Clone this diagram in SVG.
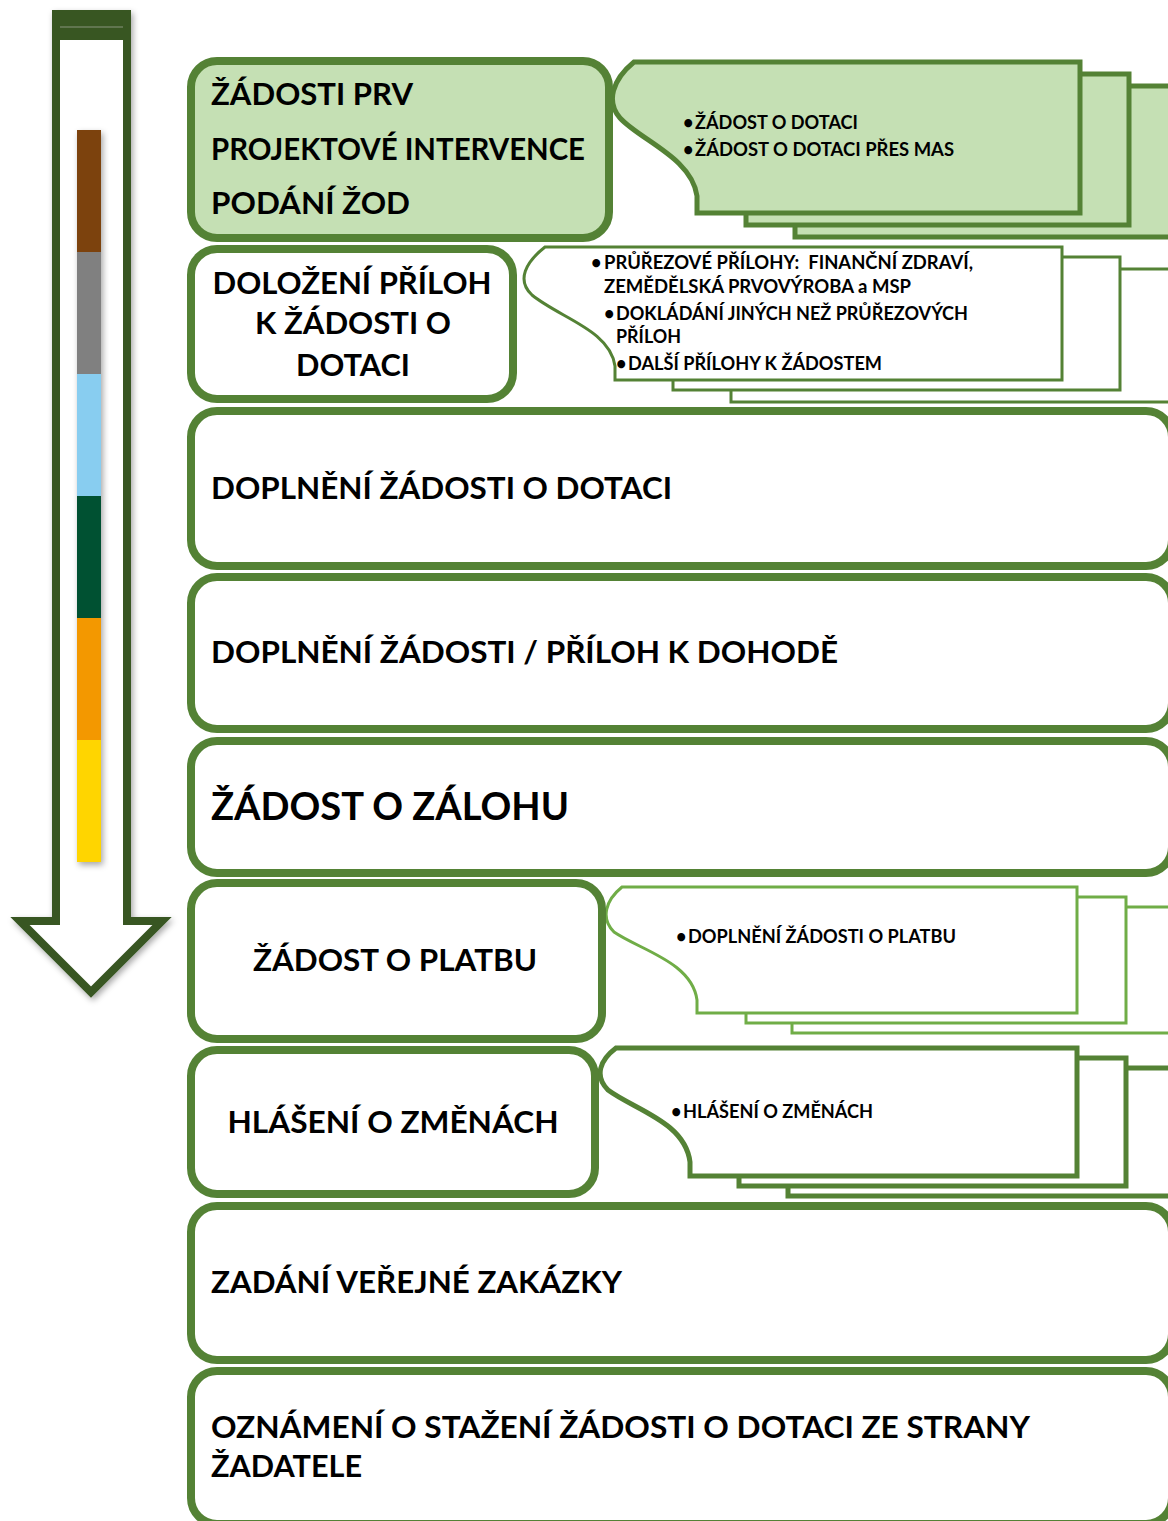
<svg xmlns="http://www.w3.org/2000/svg" width="1168" height="1521" viewBox="0 0 1168 1521">
<style>
.box{fill:#fff;stroke:#548235;stroke-width:8}
.g{fill:#C5E0B4}
.cardA{fill:#C5E0B4;stroke:#548235;stroke-width:5}
.cardB{fill:#fff;stroke:#548235;stroke-width:3}
.cardC{fill:#fff;stroke:#70AD47;stroke-width:3}
.cardD{fill:#fff;stroke:#548235;stroke-width:5}
.t{font-family:Lato,"Liberation Sans",sans-serif;font-weight:700;font-size:30px;fill:#000}
.s{font-family:Lato,"Liberation Sans",sans-serif;font-weight:700;font-size:18px;fill:#000;white-space:pre}
</style>
<defs>
<filter id="sh" x="-30%" y="-5%" width="160%" height="110%">
<feDropShadow dx="2" dy="3" stdDeviation="3" flood-color="#000" flood-opacity="0.35"/>
</filter>
<path id="c1" d="M697,213 V196 C692,158 640,140 620,118 C606,102 612,80 634,62 H1080 V213 Z"/>
<path id="c2" d="M615,380 V366 C610,330 560,318 532,295 C516,280 526,262 545,247 H1062 V380 Z"/>
<path id="c6" d="M697,1013 V1000 C692,962 640,950 614,932 C600,918 606,900 622,887 H1077 V1013 Z"/>
<path id="c7" d="M690,1176 V1162 C685,1122 635,1110 608,1090 C594,1076 600,1060 616,1048 H1077 V1176 Z"/>
</defs>

<g id="arrow" filter="url(#sh)">
<path d="M56,14 H127 V921 H162 L91,992 L20,921 H56 Z" fill="#fff" stroke="#385723" stroke-width="8" stroke-linejoin="miter"/>
<rect x="52" y="10" width="79" height="30" fill="#385723"/>
<line x1="60" y1="27" x2="123" y2="27" stroke="#6E7F60" stroke-width="1.5"/>
</g>
<g id="colorbar" filter="url(#sh)">
<rect x="77" y="130" width="24" height="122" fill="#7B4310"/>
<rect x="77" y="252" width="24" height="122" fill="#808080"/>
<rect x="77" y="374" width="24" height="122" fill="#88CDF0"/>
<rect x="77" y="496" width="24" height="122" fill="#005132"/>
<rect x="77" y="618" width="24" height="122" fill="#F39800"/>
<rect x="77" y="740" width="24" height="122" fill="#FFD500"/>
</g>

<g id="connectors"></g>

<g id="stack1">
<use href="#c1" class="cardA" transform="translate(98,24)"/>
<use href="#c1" class="cardA" transform="translate(49,12)"/>
<use href="#c1" class="cardA"/>
<text class="s" x="683" y="129">•</text><text class="s" x="695" y="129" textLength="163" lengthAdjust="spacingAndGlyphs">ŽÁDOST O DOTACI</text>
<text class="s" x="683" y="156">•</text><text class="s" x="695" y="156" textLength="259" lengthAdjust="spacingAndGlyphs">ŽÁDOST O DOTACI PŘES MAS</text>
</g>
<g id="node1">
<rect class="box g" x="191" y="61" width="418" height="177" rx="26"/>
<text class="t" x="211" y="105" textLength="202" lengthAdjust="spacingAndGlyphs">ŽÁDOSTI PRV</text>
<text class="t" x="211" y="160" textLength="374" lengthAdjust="spacingAndGlyphs">PROJEKTOVÉ INTERVENCE</text>
<text class="t" x="211" y="214" textLength="199" lengthAdjust="spacingAndGlyphs">PODÁNÍ ŽOD</text>
</g>

<g id="stack2">
<use href="#c2" class="cardB" transform="translate(116,22)"/>
<use href="#c2" class="cardB" transform="translate(58,10)"/>
<use href="#c2" class="cardB"/>
<text class="s" x="591" y="269">•</text><text class="s" x="604" y="269" textLength="369" lengthAdjust="spacingAndGlyphs" xml:space="preserve">PRŮŘEZOVÉ PŘÍLOHY:  FINANČNÍ ZDRAVÍ,</text>
<text class="s" x="604" y="293" textLength="307" lengthAdjust="spacingAndGlyphs">ZEMĚDĚLSKÁ PRVOVÝROBA a MSP</text>
<text class="s" x="604" y="320">•</text><text class="s" x="616" y="320" textLength="352" lengthAdjust="spacingAndGlyphs">DOKLÁDÁNÍ JINÝCH NEŽ PRŮŘEZOVÝCH</text>
<text class="s" x="616" y="343" textLength="65" lengthAdjust="spacingAndGlyphs">PŘÍLOH</text>
<text class="s" x="616" y="370">•</text><text class="s" x="628" y="370" textLength="254" lengthAdjust="spacingAndGlyphs">DALŠÍ PŘÍLOHY K ŽÁDOSTEM</text>
</g>
<g id="node2">
<rect class="box" x="191" y="249" width="322" height="150" rx="26"/>
<text class="t" x="352" y="294" text-anchor="middle" textLength="279" lengthAdjust="spacingAndGlyphs">DOLOŽENÍ PŘÍLOH</text>
<text class="t" x="353" y="334" text-anchor="middle" textLength="196" lengthAdjust="spacingAndGlyphs">K ŽÁDOSTI O</text>
<text class="t" x="353" y="376" text-anchor="middle" textLength="114" lengthAdjust="spacingAndGlyphs">DOTACI</text>
</g>

<g id="node3">
<rect class="box" x="191" y="411" width="981" height="155" rx="26"/>
<text class="t" x="211" y="499" textLength="461" lengthAdjust="spacingAndGlyphs">DOPLNĚNÍ ŽÁDOSTI O DOTACI</text>
</g>
<g id="node4">
<rect class="box" x="191" y="577" width="981" height="152" rx="26"/>
<text class="t" x="211" y="663" textLength="627" lengthAdjust="spacingAndGlyphs">DOPLNĚNÍ ŽÁDOSTI / PŘÍLOH K DOHODĚ</text>
</g>
<g id="node5">
<rect class="box" x="191" y="741" width="981" height="132" rx="26"/>
<text class="t" x="211" y="820" style="font-size:38px" textLength="358" lengthAdjust="spacingAndGlyphs">ŽÁDOST O ZÁLOHU</text>
</g>

<g id="stack6">
<use href="#c6" class="cardC" transform="translate(95,20)"/>
<use href="#c6" class="cardC" transform="translate(49,10)"/>
<use href="#c6" class="cardC"/>
<text class="s" x="676" y="943">•</text><text class="s" x="688" y="943" textLength="268" lengthAdjust="spacingAndGlyphs">DOPLNĚNÍ ŽÁDOSTI O PLATBU</text>
</g>
<g id="node6">
<rect class="box" x="191" y="883" width="411" height="156" rx="26"/>
<text class="t" x="395" y="971" text-anchor="middle" textLength="284" lengthAdjust="spacingAndGlyphs">ŽÁDOST O PLATBU</text>
</g>

<g id="stack7">
<use href="#c7" class="cardD" transform="translate(98,20)"/>
<use href="#c7" class="cardD" transform="translate(49,10)"/>
<use href="#c7" class="cardD"/>
<text class="s" x="671" y="1118">•</text><text class="s" x="683" y="1118" textLength="190" lengthAdjust="spacingAndGlyphs">HLÁŠENÍ O ZMĚNÁCH</text>
</g>
<g id="node7">
<rect class="box" x="191" y="1050" width="404" height="144" rx="26"/>
<text class="t" x="393" y="1133" text-anchor="middle" textLength="331" lengthAdjust="spacingAndGlyphs">HLÁŠENÍ O ZMĚNÁCH</text>
</g>

<g id="node8">
<rect class="box" x="191" y="1206" width="981" height="154" rx="26"/>
<text class="t" x="211" y="1293" textLength="411" lengthAdjust="spacingAndGlyphs">ZADÁNÍ VEŘEJNÉ ZAKÁZKY</text>
</g>
<g id="node9">
<rect class="box" x="191" y="1371" width="981" height="153" rx="26"/>
<text class="t" x="211" y="1438" textLength="819" lengthAdjust="spacingAndGlyphs">OZNÁMENÍ O STAŽENÍ ŽÁDOSTI O DOTACI ZE STRANY</text>
<text class="t" x="211" y="1477" textLength="151" lengthAdjust="spacingAndGlyphs">ŽADATELE</text>
</g>
</svg>
